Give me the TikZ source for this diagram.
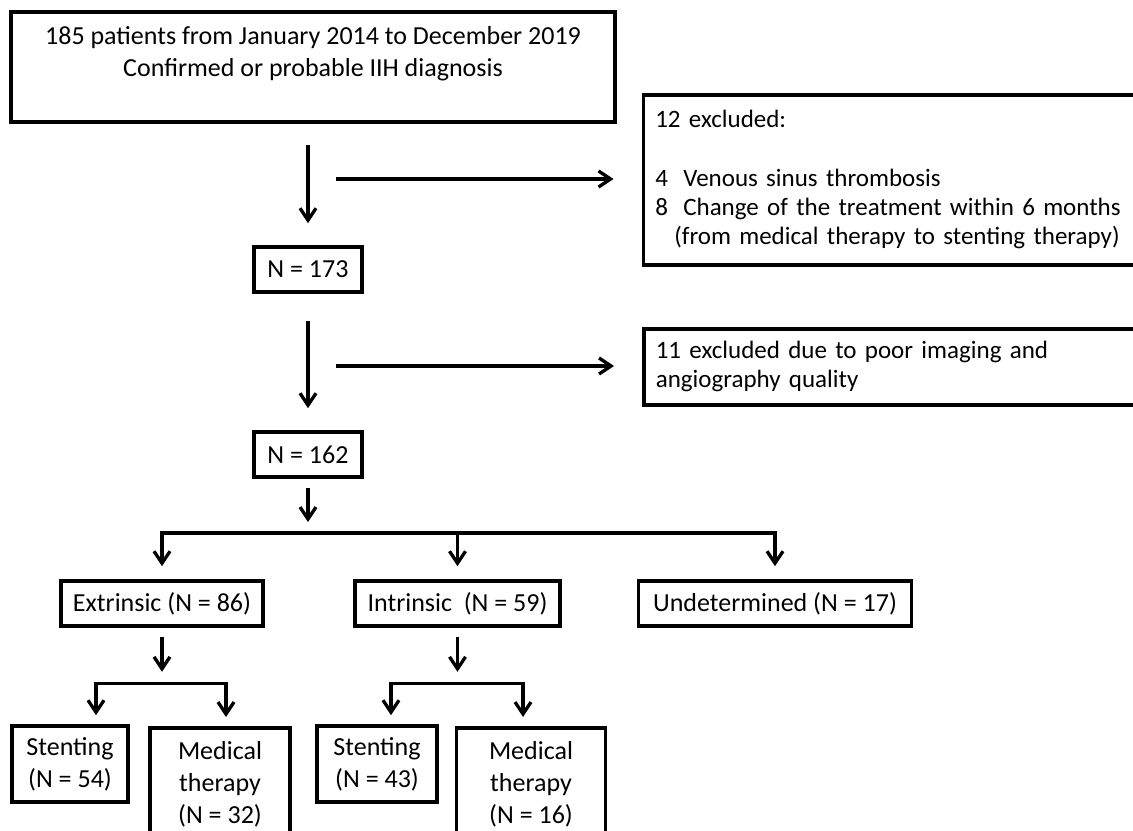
\documentclass[tikz,border=0pt]{standalone}
\usepackage{fontspec}
\setmainfont{Carlito}
\usetikzlibrary{arrows.meta,positioning,calc}
\tikzset{
  box/.style={
    draw=black,
    line width=1.8pt,
    fill=white,
    align=center,
    inner sep=2pt,
    font=\fontsize{13}{16}\selectfont
  },
  listbox/.style={box, anchor=north west, align=left, text width=250pt, inner xsep=6pt,
    font=\fontsize{12.5}{14.5}\selectfont},
  flow/.style={line width=1.65pt},
  arr/.style={flow, -{Straight Barb[length=6pt,width=8pt]}}
}

\begin{document}
\begin{tikzpicture}[x=0.5pt, y=-0.5pt]
  \path[use as bounding box] (0,0) rectangle (1133,830);
  \clip (0,0) rectangle (1133,830);
  \node[box, minimum width=302pt, minimum height=55pt] (start) at (313,67)
    {185 patients from January 2014 to December 2019\\Confirmed or probable IIH diagnosis\\\mbox{}};
  \node[box, minimum width=54pt, minimum height=22.5pt] (n173) at (308,269.5) {N = 173};
  \node[box, minimum width=54pt, minimum height=22.5pt] (n162) at (308,454.5) {N = 162};
  \node[listbox, minimum height=85pt] (excl1) at (641.5,93)
    {12 excluded:\\[15pt]\makebox[14pt][l]{4}Venous sinus thrombosis\\
     \makebox[14pt][l]{8}Change of the treatment within 6 months\\
     \hspace*{9.5pt}(from medical therapy to stenting therapy)};
  \node[listbox, minimum height=38pt] (excl2) at (642,327)
    {11 excluded due to poor imaging and\\angiography quality};
  \node[box, minimum width=101pt, minimum height=22.5pt] (extr) at (162,603.5) {Extrinsic (N = 86)};
  \node[box, minimum width=102.5pt, minimum height=22.5pt] (intr) at (457.5,603.5) {Intrinsic\ \ (N = 59)};
  \node[box, minimum width=136.5pt, minimum height=22.5pt] (undet) at (775,603.5) {Undetermined (N = 17)};
  \node[box, minimum width=58pt, minimum height=38pt] (sten1) at (70,764) {Stenting\\(N = 54)};
  \node[box, minimum width=70pt, minimum height=56pt, anchor=north] (med1) at (220,726) {Medical\\therapy\\(N = 32)};
  \node[box, minimum width=60pt, minimum height=38pt] (sten2) at (377,764) {Stenting\\(N = 43)};
  \node[box, minimum width=74.5pt, minimum height=56pt, anchor=north] (med2) at (531,726) {Medical\\therapy\\(N = 16)};

  \coordinate (out1) at (336,179);
  \coordinate (out2) at (336,366);
  \coordinate (split1) at (308,533);
  \path (extr.south) ++(0,56) coordinate (split2);
  \path (intr.south) ++(0,56) coordinate (split3);

  \draw[arr, shorten <=10.5pt, shorten >=11pt] (start.south -| n173) -- (n173.north);
  \draw[arr, shorten >=14pt] (out1) -- (out1 -| excl1.west);
  \draw[arr, shorten <=13.5pt, shorten >=11pt] (n173.south) -- (n162.north);
  \draw[arr, shorten >=14pt] (out2) -- (out2 -| excl2.west);
  \draw[arr, shorten <=4.5pt, shorten >=5.5pt] (n162.south) -- (split1);
  \draw[arr, shorten >=6.5pt] (split1) -| (extr.north);
  \draw[arr, shorten >=6.5pt] (split1 -| intr.north) -- (intr.north);
  \draw[arr, shorten >=6.5pt] (split1) -| (undet.north);
  \draw[arr, shorten <=4.5pt, shorten >=6pt] (extr.south) -- (split2);
  \draw[arr, shorten >=4.5pt] (split2) -| ([xshift=13pt]sten1.north);
  \draw[arr, shorten >=4.5pt] (split2) -| ([xshift=3pt]med1.north);
  \draw[arr, shorten <=4.5pt, shorten >=6pt] (intr.south) -- (split3);
  \draw[arr, shorten >=4.5pt] (split3) -| ([xshift=7pt]sten2.north);
  \draw[arr, shorten >=4.5pt] (split3) -| ([xshift=-4pt]med2.north);
\end{tikzpicture}
\end{document}
